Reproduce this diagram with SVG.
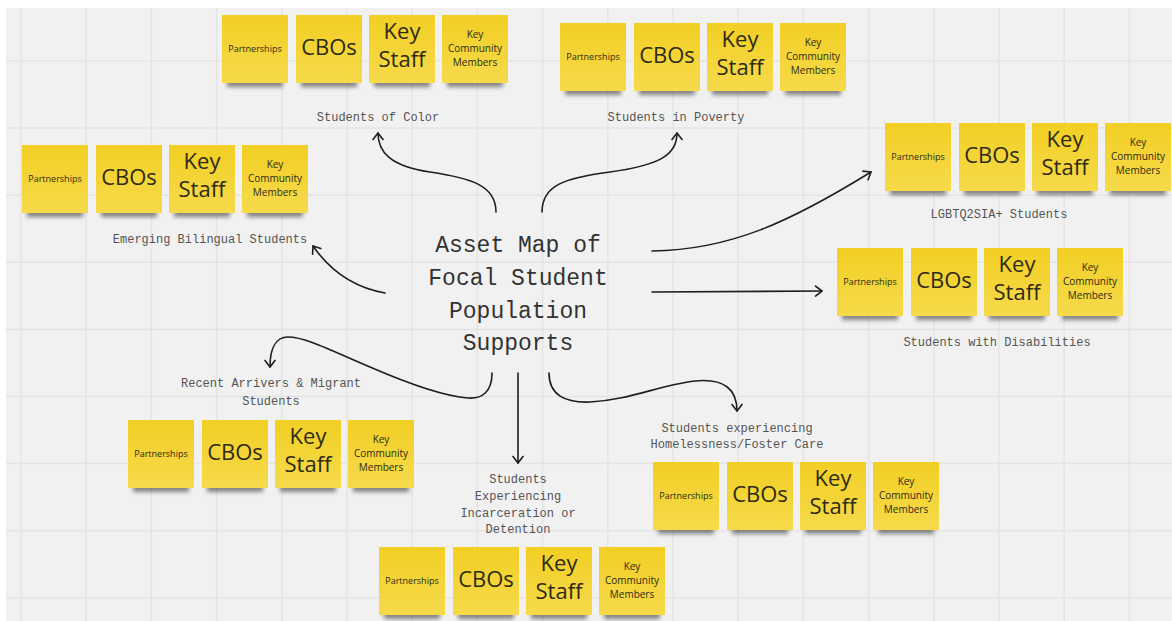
<svg xmlns="http://www.w3.org/2000/svg" width="1172" height="621" viewBox="0 0 1172 621">
  <defs>
    <style>
      .board { fill: #f1f1f1; }
      .grid line { stroke: #e4e4e4; stroke-width: 1.5; }
      .paper { fill: url(#noteFill); }
      .shade { fill: #2a2a2a; opacity: 0.55; filter: url(#blur); }
      .note text { font-family: "Open Sans", "Noto Sans", sans-serif; fill: #2e2a14; text-anchor: middle; }
      .note .s { font-size: 9px; }
      .note .m { font-size: 10px; }
      .note .l { font-size: 22px; }
      .label { font-family: "Liberation Mono", "DejaVu Sans Mono", monospace; font-size: 12px; fill: #555; text-anchor: middle; }
      .title { font-family: "Liberation Mono", "DejaVu Sans Mono", monospace; font-size: 23px; fill: #333; text-anchor: middle; }
      .links path { fill: none; stroke: #1e1e1e; stroke-width: 1.6; stroke-linecap: round; marker-end: url(#tip); }
    </style>
    <linearGradient id="noteFill" x1="0" y1="0" x2="0" y2="1">
      <stop offset="0" stop-color="#f2cf24"/>
      <stop offset="1" stop-color="#f6da4b"/>
    </linearGradient>
    <filter id="blur" x="-20%" y="-50%" width="140%" height="200%">
      <feGaussianBlur stdDeviation="2"/>
    </filter>
    <marker id="tip" viewBox="-9 -7 11 14" refX="0" refY="0" markerWidth="11" markerHeight="14" markerUnits="userSpaceOnUse" orient="auto">
      <path d="M-6.5,-5 L0,0 L-6.5,5" fill="none" stroke="#1e1e1e" stroke-width="1.6" stroke-linecap="round" stroke-linejoin="round"/>
    </marker>
  </defs>

  <!-- board -->
  <rect width="1172" height="621" fill="#ffffff"/>
  <rect class="board" x="6" y="8" width="1166" height="613"/>
  <g class="grid">
    <line x1="21" y1="8" x2="21" y2="621"/>
    <line x1="86.2" y1="8" x2="86.2" y2="621"/>
    <line x1="151.4" y1="8" x2="151.4" y2="621"/>
    <line x1="216.6" y1="8" x2="216.6" y2="621"/>
    <line x1="281.8" y1="8" x2="281.8" y2="621"/>
    <line x1="347" y1="8" x2="347" y2="621"/>
    <line x1="412.2" y1="8" x2="412.2" y2="621"/>
    <line x1="477.4" y1="8" x2="477.4" y2="621"/>
    <line x1="542.6" y1="8" x2="542.6" y2="621"/>
    <line x1="607.8" y1="8" x2="607.8" y2="621"/>
    <line x1="673" y1="8" x2="673" y2="621"/>
    <line x1="738.2" y1="8" x2="738.2" y2="621"/>
    <line x1="803.4" y1="8" x2="803.4" y2="621"/>
    <line x1="868.6" y1="8" x2="868.6" y2="621"/>
    <line x1="933.8" y1="8" x2="933.8" y2="621"/>
    <line x1="999" y1="8" x2="999" y2="621"/>
    <line x1="1064.2" y1="8" x2="1064.2" y2="621"/>
    <line x1="1129.4" y1="8" x2="1129.4" y2="621"/>
    <line x1="6" y1="61" x2="1172" y2="61"/>
    <line x1="6" y1="128.1" x2="1172" y2="128.1"/>
    <line x1="6" y1="195.2" x2="1172" y2="195.2"/>
    <line x1="6" y1="262.3" x2="1172" y2="262.3"/>
    <line x1="6" y1="329.4" x2="1172" y2="329.4"/>
    <line x1="6" y1="396.5" x2="1172" y2="396.5"/>
    <line x1="6" y1="463.6" x2="1172" y2="463.6"/>
    <line x1="6" y1="530.7" x2="1172" y2="530.7"/>
    <line x1="6" y1="597.8" x2="1172" y2="597.8"/>
  </g>

  <!-- central topic -->
  <g id="node-title">
    <text class="title" x="518" y="252">Asset Map of</text>
    <text class="title" x="518" y="285">Focal Student</text>
    <text class="title" x="518" y="318">Population</text>
    <text class="title" x="518" y="350">Supports</text>
  </g>

  <!-- connectors from the central topic -->
  <g class="links" id="connectors">
    <path d="M496,212 C496,185 470,178 430,172 C390,166 378,152 378,133"/>
    <path d="M542,212 C542,185 565,178 610,172 C660,165 677,155 677,133"/>
    <path d="M385,293 Q340,285 313,246"/>
    <path d="M652,251 C730,250 790,222 871,172"/>
    <path d="M652,292 L822,291"/>
    <path d="M492,373 C492,392 482,399 468,398 C440,396 400,380 370,367 C330,350 305,337 288,337 C275,337 270,350 270,367"/>
    <path d="M518,373 L518,463"/>
    <path d="M549,373 C549,395 565,403 590,402 C630,400 660,385 695,381 C725,378 737,390 737,411"/>
  </g>

  <!-- Students of Color -->
  <g id="node-students-of-color">
    <g transform="translate(222,15)">
      <g class="note"><rect class="shade" x="5" y="60" width="56" height="12"/><rect class="paper" width="66" height="68"/><text class="s" x="33" y="37">Partnerships</text></g>
      <g class="note" transform="translate(74,0)"><rect class="shade" x="5" y="60" width="56" height="12"/><rect class="paper" width="66" height="68"/><text class="l" x="33" y="40">CBOs</text></g>
      <g class="note" transform="translate(147,0)"><rect class="shade" x="5" y="60" width="56" height="12"/><rect class="paper" width="66" height="68"/><text class="l" x="33" y="24">Key</text><text class="l" x="33" y="52">Staff</text></g>
      <g class="note" transform="translate(220,0)"><rect class="shade" x="5" y="60" width="56" height="12"/><rect class="paper" width="66" height="68"/><text class="m" x="33" y="23">Key</text><text class="m" x="33" y="37">Community</text><text class="m" x="33" y="51">Members</text></g>
    </g>
    <text class="label" x="378" y="121">Students of Color</text>
  </g>

  <!-- Students in Poverty -->
  <g id="node-students-in-poverty">
    <g transform="translate(560,23)">
      <g class="note"><rect class="shade" x="5" y="60" width="56" height="12"/><rect class="paper" width="66" height="68"/><text class="s" x="33" y="37">Partnerships</text></g>
      <g class="note" transform="translate(74,0)"><rect class="shade" x="5" y="60" width="56" height="12"/><rect class="paper" width="66" height="68"/><text class="l" x="33" y="40">CBOs</text></g>
      <g class="note" transform="translate(147,0)"><rect class="shade" x="5" y="60" width="56" height="12"/><rect class="paper" width="66" height="68"/><text class="l" x="33" y="24">Key</text><text class="l" x="33" y="52">Staff</text></g>
      <g class="note" transform="translate(220,0)"><rect class="shade" x="5" y="60" width="56" height="12"/><rect class="paper" width="66" height="68"/><text class="m" x="33" y="23">Key</text><text class="m" x="33" y="37">Community</text><text class="m" x="33" y="51">Members</text></g>
    </g>
    <text class="label" x="676" y="121">Students in Poverty</text>
  </g>

  <!-- Emerging Bilingual Students -->
  <g id="node-emerging-bilingual">
    <g transform="translate(22,145)">
      <g class="note"><rect class="shade" x="5" y="60" width="56" height="12"/><rect class="paper" width="66" height="68"/><text class="s" x="33" y="37">Partnerships</text></g>
      <g class="note" transform="translate(74,0)"><rect class="shade" x="5" y="60" width="56" height="12"/><rect class="paper" width="66" height="68"/><text class="l" x="33" y="40">CBOs</text></g>
      <g class="note" transform="translate(147,0)"><rect class="shade" x="5" y="60" width="56" height="12"/><rect class="paper" width="66" height="68"/><text class="l" x="33" y="24">Key</text><text class="l" x="33" y="52">Staff</text></g>
      <g class="note" transform="translate(220,0)"><rect class="shade" x="5" y="60" width="56" height="12"/><rect class="paper" width="66" height="68"/><text class="m" x="33" y="23">Key</text><text class="m" x="33" y="37">Community</text><text class="m" x="33" y="51">Members</text></g>
    </g>
    <text class="label" x="210" y="243">Emerging Bilingual Students</text>
  </g>

  <!-- LGBTQ2SIA+ Students -->
  <g id="node-lgbtq2sia">
    <g transform="translate(885,123)">
      <g class="note"><rect class="shade" x="5" y="60" width="56" height="12"/><rect class="paper" width="66" height="68"/><text class="s" x="33" y="37">Partnerships</text></g>
      <g class="note" transform="translate(74,0)"><rect class="shade" x="5" y="60" width="56" height="12"/><rect class="paper" width="66" height="68"/><text class="l" x="33" y="40">CBOs</text></g>
      <g class="note" transform="translate(147,0)"><rect class="shade" x="5" y="60" width="56" height="12"/><rect class="paper" width="66" height="68"/><text class="l" x="33" y="24">Key</text><text class="l" x="33" y="52">Staff</text></g>
      <g class="note" transform="translate(220,0)"><rect class="shade" x="5" y="60" width="56" height="12"/><rect class="paper" width="66" height="68"/><text class="m" x="33" y="23">Key</text><text class="m" x="33" y="37">Community</text><text class="m" x="33" y="51">Members</text></g>
    </g>
    <text class="label" x="999" y="218">LGBTQ2SIA+ Students</text>
  </g>

  <!-- Students with Disabilities -->
  <g id="node-disabilities">
    <g transform="translate(837,248)">
      <g class="note"><rect class="shade" x="5" y="60" width="56" height="12"/><rect class="paper" width="66" height="68"/><text class="s" x="33" y="37">Partnerships</text></g>
      <g class="note" transform="translate(74,0)"><rect class="shade" x="5" y="60" width="56" height="12"/><rect class="paper" width="66" height="68"/><text class="l" x="33" y="40">CBOs</text></g>
      <g class="note" transform="translate(147,0)"><rect class="shade" x="5" y="60" width="56" height="12"/><rect class="paper" width="66" height="68"/><text class="l" x="33" y="24">Key</text><text class="l" x="33" y="52">Staff</text></g>
      <g class="note" transform="translate(220,0)"><rect class="shade" x="5" y="60" width="56" height="12"/><rect class="paper" width="66" height="68"/><text class="m" x="33" y="23">Key</text><text class="m" x="33" y="37">Community</text><text class="m" x="33" y="51">Members</text></g>
    </g>
    <text class="label" x="997" y="346">Students with Disabilities</text>
  </g>

  <!-- Recent Arrivers & Migrant Students -->
  <g id="node-recent-arrivers">
    <g transform="translate(128,420)">
      <g class="note"><rect class="shade" x="5" y="60" width="56" height="12"/><rect class="paper" width="66" height="68"/><text class="s" x="33" y="37">Partnerships</text></g>
      <g class="note" transform="translate(74,0)"><rect class="shade" x="5" y="60" width="56" height="12"/><rect class="paper" width="66" height="68"/><text class="l" x="33" y="40">CBOs</text></g>
      <g class="note" transform="translate(147,0)"><rect class="shade" x="5" y="60" width="56" height="12"/><rect class="paper" width="66" height="68"/><text class="l" x="33" y="24">Key</text><text class="l" x="33" y="52">Staff</text></g>
      <g class="note" transform="translate(220,0)"><rect class="shade" x="5" y="60" width="56" height="12"/><rect class="paper" width="66" height="68"/><text class="m" x="33" y="23">Key</text><text class="m" x="33" y="37">Community</text><text class="m" x="33" y="51">Members</text></g>
    </g>
    <text class="label" x="271" y="387">Recent Arrivers &amp; Migrant</text>
    <text class="label" x="271" y="405">Students</text>
  </g>

  <!-- Students Experiencing Incarceration or Detention -->
  <g id="node-incarceration">
    <g transform="translate(379,547)">
      <g class="note"><rect class="shade" x="5" y="60" width="56" height="12"/><rect class="paper" width="66" height="68"/><text class="s" x="33" y="37">Partnerships</text></g>
      <g class="note" transform="translate(74,0)"><rect class="shade" x="5" y="60" width="56" height="12"/><rect class="paper" width="66" height="68"/><text class="l" x="33" y="40">CBOs</text></g>
      <g class="note" transform="translate(147,0)"><rect class="shade" x="5" y="60" width="56" height="12"/><rect class="paper" width="66" height="68"/><text class="l" x="33" y="24">Key</text><text class="l" x="33" y="52">Staff</text></g>
      <g class="note" transform="translate(220,0)"><rect class="shade" x="5" y="60" width="56" height="12"/><rect class="paper" width="66" height="68"/><text class="m" x="33" y="23">Key</text><text class="m" x="33" y="37">Community</text><text class="m" x="33" y="51">Members</text></g>
    </g>
    <text class="label" x="518" y="483">Students</text>
    <text class="label" x="518" y="500">Experiencing</text>
    <text class="label" x="518" y="517">Incarceration or</text>
    <text class="label" x="518" y="533">Detention</text>
  </g>

  <!-- Students experiencing Homelessness/Foster Care -->
  <g id="node-homelessness">
    <g transform="translate(653,462)">
      <g class="note"><rect class="shade" x="5" y="60" width="56" height="12"/><rect class="paper" width="66" height="68"/><text class="s" x="33" y="37">Partnerships</text></g>
      <g class="note" transform="translate(74,0)"><rect class="shade" x="5" y="60" width="56" height="12"/><rect class="paper" width="66" height="68"/><text class="l" x="33" y="40">CBOs</text></g>
      <g class="note" transform="translate(147,0)"><rect class="shade" x="5" y="60" width="56" height="12"/><rect class="paper" width="66" height="68"/><text class="l" x="33" y="24">Key</text><text class="l" x="33" y="52">Staff</text></g>
      <g class="note" transform="translate(220,0)"><rect class="shade" x="5" y="60" width="56" height="12"/><rect class="paper" width="66" height="68"/><text class="m" x="33" y="23">Key</text><text class="m" x="33" y="37">Community</text><text class="m" x="33" y="51">Members</text></g>
    </g>
    <text class="label" x="737" y="432">Students experiencing</text>
    <text class="label" x="737" y="448">Homelessness/Foster Care</text>
  </g>
</svg>
